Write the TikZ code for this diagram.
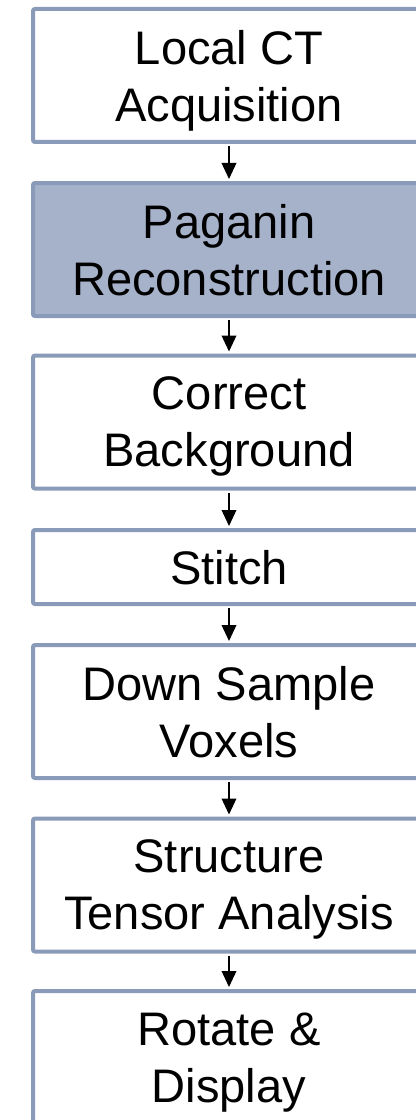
\documentclass[tikz,border=0pt]{standalone}
\usepackage{fontspec}
\setmainfont{Liberation Sans}
\usepackage{xcolor}
\usepackage{tikz}
\usetikzlibrary{positioning, arrows.meta}

\definecolor{boxline}{HTML}{8A9BB9}
\definecolor{boxfill}{HTML}{A6B2CA}

\begin{document}
\begin{tikzpicture}[
    x=0.75pt, y=-0.75pt,
    block/.style={draw=boxline, line width=3pt, rounded corners=1.5pt, fill=white,
                  minimum width=294pt, minimum height=99.75pt, inner sep=0pt,
                  text depth=0pt, align=center,
                  font=\fontsize{35.3}{42.75}\selectfont},
    arrow/.style={-{Triangle[length=12pt, width=11pt]}, line width=1.1pt, black,
                  shorten >=1.5pt, shorten <=1.5pt},
]
\useasboundingbox (0,0) rectangle (415,1120);

% --- Steps ---
\node[block] (acq) at (229, 75.5) {Local CT\\Acquisition};
\node[block, fill=boxfill] (pag) at (229, 249.5) {Paganin\\Reconstruction};
\node[block] (bg) at (229, 422) {Correct\\Background};
\node[block, minimum height=55.5pt] (stitch) at (229, 567) {Stitch};
\node[block] (down) at (229, 711.5) {Down Sample\\Voxels};
\node[block] (tensor) at (229, 885) {Structure\\Tensor Analysis};
\node[block] (disp) at (229, 1057.5) {Rotate \&\\Display};

% --- Main flow ---
\draw[arrow] (acq) -- (pag);
\draw[arrow] (pag) -- (bg);
\draw[arrow] (bg) -- (stitch);
\draw[arrow] (stitch) -- (down);
\draw[arrow] (down) -- (tensor);
\draw[arrow] (tensor) -- (disp);
\end{tikzpicture}
\end{document}
